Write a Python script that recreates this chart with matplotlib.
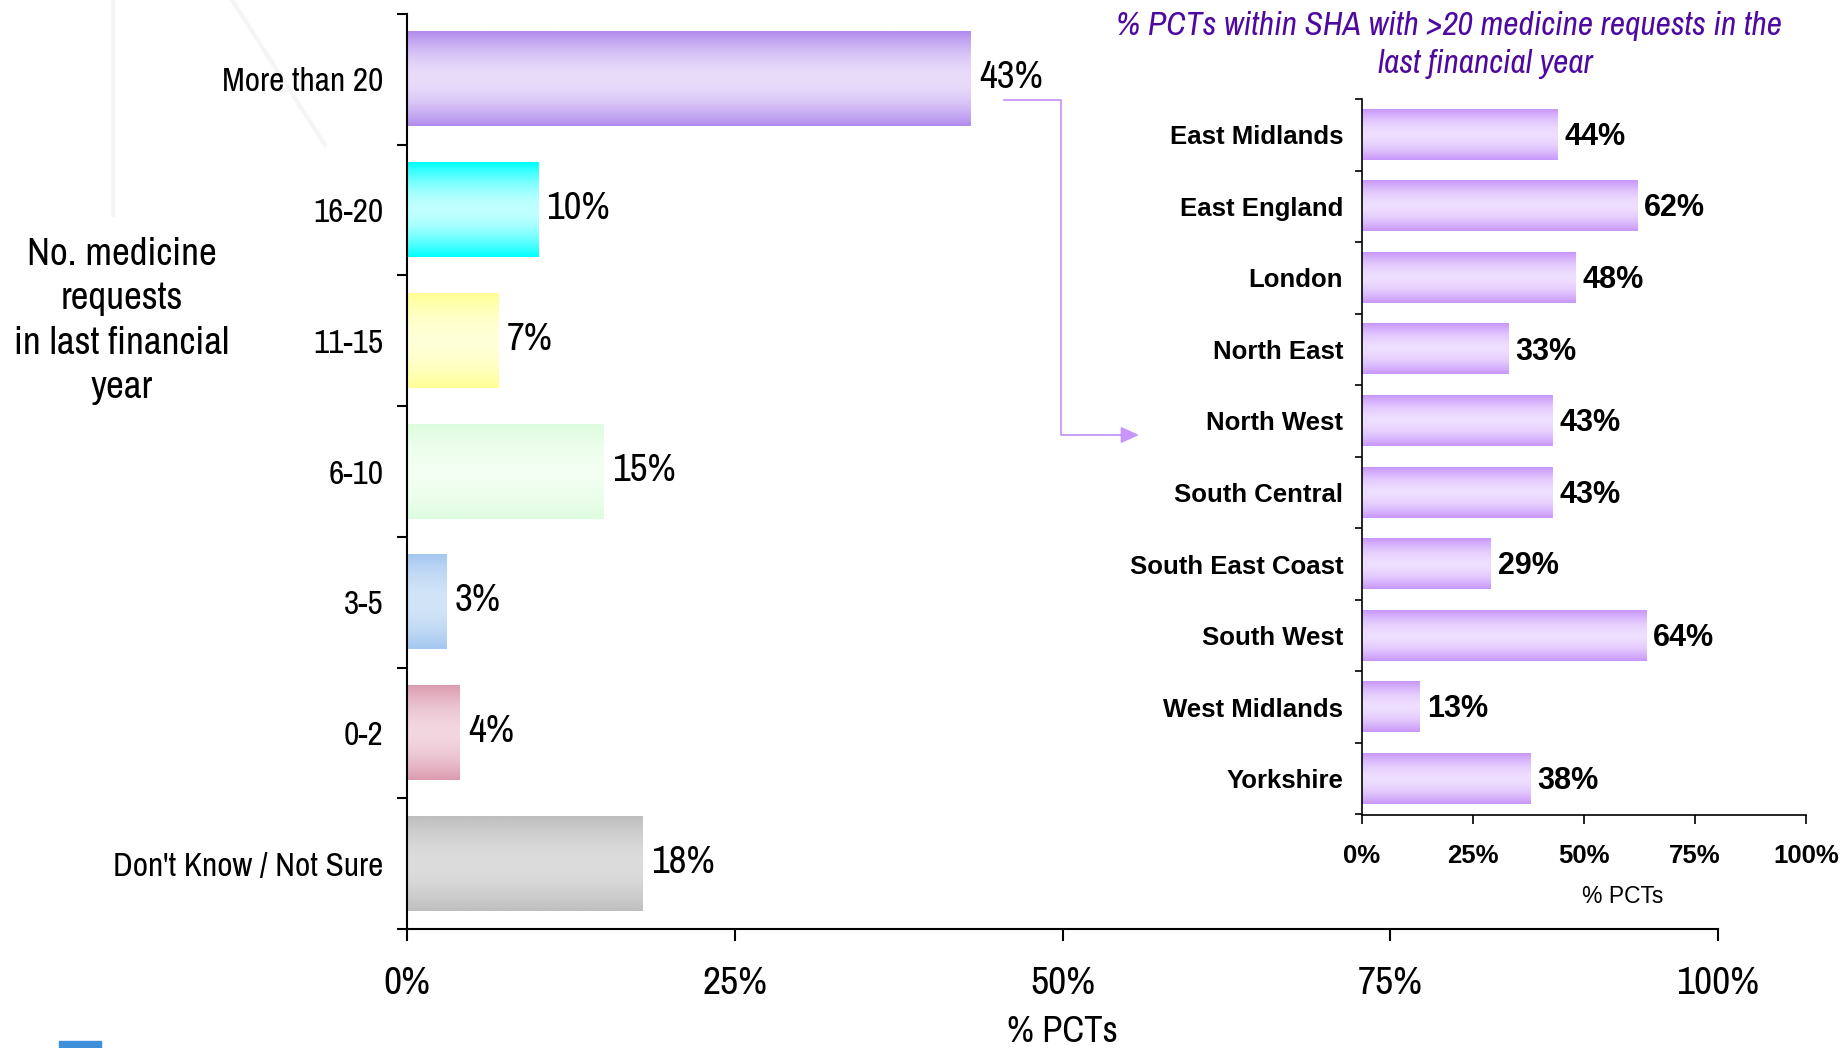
import numpy as np
import matplotlib
matplotlib.use("Agg")
import matplotlib.pyplot as plt
from matplotlib import font_manager
from matplotlib.lines import Line2D
from matplotlib.patches import Rectangle

# data
req_cats = ["More than 20", "16-20", "11-15", "6-10", "3-5", "0-2", "Don't Know / Not Sure"]
req_vals = [43, 10, 7, 15, 3, 4, 18]
req_cols = [("#B28CEE", "#E8DCFA"), ("#00FFFF", "#C0FFFF"), ("#FFFF96", "#FFFFD8"),
            ("#DEFCDE", "#F2FFF2"), ("#A4C8F0", "#D2E4F8"), ("#DC9CB0", "#F2D6E0"),
            ("#BEBEBE", "#DCDCDC")]

sha_cats = ["East Midlands", "East England", "London", "North East", "North West",
            "South Central", "South East Coast", "South West", "West Midlands", "Yorkshire"]
sha_vals = [44, 62, 48, 33, 43, 43, 29, 64, 13, 38]
sha_col = ("#C896FA", "#EEDEFF")

pct_ticks = [0, 25, 50, 75, 100]

# pick a narrow font if there is one (the original uses Arial Narrow)
fl = font_manager.fontManager.ttflist
names = set(f.name for f in fl)
narrow_names = sorted(f.name for f in fl if "narrow" in f.name.lower() or "condensed" in f.name.lower())
nstretch = "normal"
k = 1.0
if narrow_names:
    narrow = narrow_names[0]
elif any(f.name == "DejaVu Sans" and f.stretch not in ("normal", 500) for f in fl):
    narrow = "DejaVu Sans"
    nstretch = "condensed"
    k = 0.95
else:
    narrow = "Liberation Sans" if "Liberation Sans" in names else "DejaVu Sans"
    k = 0.86
bold = "Liberation Sans" if "Liberation Sans" in names else "DejaVu Sans"
NF = dict(family=narrow, stretch=nstretch)

W, H = 1843, 1048
fig = plt.figure(figsize=(W / 100, H / 100), dpi=100)
fx = lambda px: px / W
fy = lambda py: 1 - py / H


def grad_bars(ax, bars, edge, mid):
    # vertical gradient: darker at top/bottom, light in middle
    e = np.array(matplotlib.colors.to_rgb(edge))
    m = np.array(matplotlib.colors.to_rgb(mid))
    t = np.linspace(0, 1, 80)
    s = 1 - np.abs(2 * t - 1) ** 1.8
    img = (e[None, :] + (m - e)[None, :] * s[:, None])[:, None, :]
    for b in bars:
        x, y, w, h = b.get_x(), b.get_y(), b.get_width(), b.get_height()
        ax.imshow(img, extent=[x, x + w, y + h, y], aspect="auto", zorder=2,
                  interpolation="bilinear")
        b.set_facecolor("none")


# faint background watermark lines
fig.add_artist(Line2D([fx(113), fx(113)], [fy(0), fy(215)], color="#F5F5F5", lw=3, zorder=-5))
fig.add_artist(Line2D([fx(232), fx(325)], [fy(0), fy(145)], color="#F5F5F5", lw=3, zorder=-5))
fig.add_artist(Rectangle((fx(59), 0), fx(42), 7 / H, color="#3C8FD8", zorder=-5))

# ---- left chart
ax = fig.add_axes([fx(407), fy(929), fx(1718) - fx(407), fy(14) - fy(929)])
n = len(req_cats)
yy = np.arange(n)
bars = ax.barh(yy, [v / 100 for v in req_vals], height=0.72, zorder=2)
for b, (e, m) in zip(bars, req_cols):
    grad_bars(ax, [b], e, m)
for i, v in enumerate(req_vals):
    ax.annotate(f"{v}%", (v / 100, i), xytext=(6, 1), textcoords="offset points",
                va="center", ha="left", fontsize=28 * k, **NF)
ax.set_xlim(0, 1)
ax.set_ylim(n - 0.5, -0.5)
ax.set_yticks(np.arange(n + 1) - 0.5)
ax.set_yticklabels([])
ax.set_yticks(yy, minor=True)
ax.set_yticklabels(req_cats, minor=True, fontsize=24 * k, **NF)
ax.tick_params(axis="y", which="major", length=7.5, width=1.5)
ax.tick_params(axis="y", which="minor", length=0, pad=17)
ax.set_xticks([p / 100 for p in pct_ticks])
ax.set_xticklabels([f"{p}%" for p in pct_ticks], fontsize=28.5 * k, **NF)
ax.tick_params(axis="x", length=8.6, width=1.5, pad=18)
ax.set_xlabel("% PCTs", fontsize=26.5 * k, labelpad=10, **NF)
for sp in ["top", "right"]:
    ax.spines[sp].set_visible(False)
for sp in ["left", "bottom"]:
    ax.spines[sp].set_linewidth(1.5)
ax.patch.set_alpha(0)

fig.text(fx(122), fy(321), "No. medicine\nrequests\nin last financial\nyear", ha="center",
         va="center", fontsize=28 * k, linespacing=1.33, **NF)

# ---- right chart
ax2 = fig.add_axes([fx(1362), fy(814.5), fx(1806) - fx(1362), fy(99) - fy(814.5)])
m = len(sha_cats)
y2 = np.arange(m)
bars2 = ax2.barh(y2, [v / 100 for v in sha_vals], height=0.70, zorder=2)
grad_bars(ax2, bars2, *sha_col)
for i, v in enumerate(sha_vals):
    ax2.annotate(f"{v}%", (v / 100, i), xytext=(5, -1.5), textcoords="offset points",
                 va="center", ha="left", fontsize=22, family=bold, fontweight="bold")
ax2.set_xlim(0, 1)
ax2.set_ylim(m - 0.5, -0.5)
ax2.set_yticks(np.arange(m + 1) - 0.5)
ax2.set_yticklabels([])
ax2.set_yticks(y2, minor=True)
ax2.set_yticklabels(sha_cats, minor=True, fontsize=18.5, family=bold, fontweight="bold")
ax2.tick_params(axis="y", which="major", length=5, width=1.2)
ax2.tick_params(axis="y", which="minor", length=0, pad=13.5)
ax2.set_xticks([p / 100 for p in pct_ticks])
ax2.set_xticklabels([f"{p}%" for p in pct_ticks], fontsize=18.5, family=bold, fontweight="bold")
ax2.tick_params(axis="x", length=6.5, width=1.2, pad=15)
ax2.set_xlabel("% PCTs", fontsize=16.5, family=bold)
ax2.xaxis.set_label_coords(0.588, -0.098)
for sp in ["top", "right"]:
    ax2.spines[sp].set_visible(False)
for sp in ["left", "bottom"]:
    ax2.spines[sp].set_linewidth(1.2)
ax2.patch.set_alpha(0)

title_col = "#4E0AA0"
fig.text(fx(1449), fy(26), "% PCTs within SHA with >20 medicine requests in the", ha="center",
         va="center", fontsize=24 * k, style="italic", color=title_col, **NF)
fig.text(fx(1485), fy(64), "last financial year", ha="center", va="center", fontsize=24 * k,
         style="italic", color=title_col, **NF)

# connector arrow from the >20 bar to the right chart
arr_col = "#C896FA"
fig.add_artist(Line2D([fx(1004), fx(1061), fx(1061), fx(1125)],
                      [fy(100), fy(100), fy(435), fy(435)], color=arr_col, lw=1.3))
ax.annotate("", xy=(fx(1139), fy(435)), xytext=(fx(1120), fy(435)),
            xycoords="figure fraction", textcoords="figure fraction",
            arrowprops=dict(arrowstyle="-|>,head_length=1.1,head_width=0.5", color=arr_col,
                            lw=1.3, shrinkA=0, shrinkB=0))

fig.savefig("out.png", dpi=100, facecolor="white")
